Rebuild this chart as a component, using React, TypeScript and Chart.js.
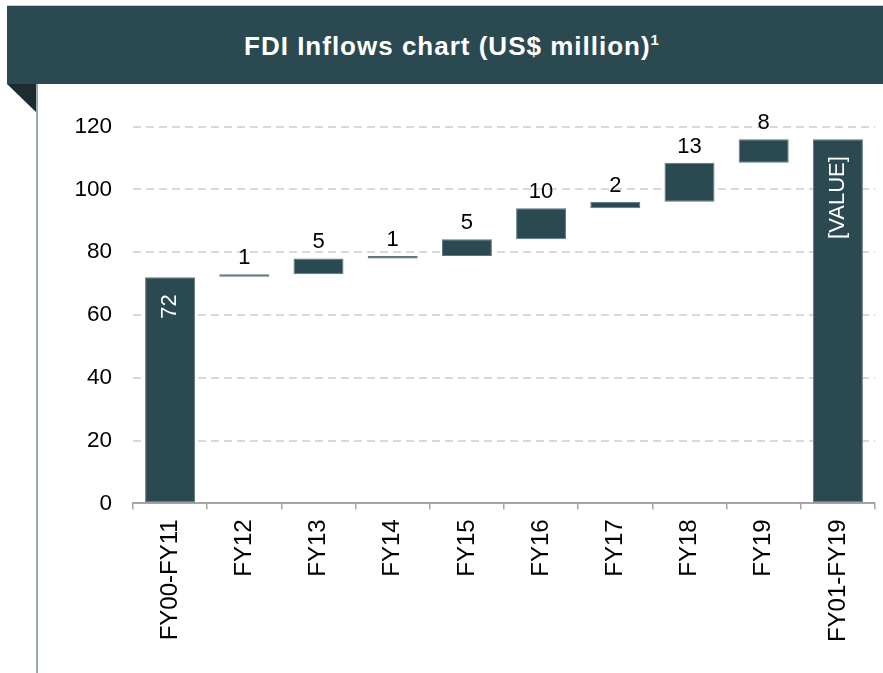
import React, { useEffect, useRef } from 'react';
import { Chart, registerables } from 'chart.js';

Chart.register(...registerables);

const categories = ['FY00-FY11', 'FY12', 'FY13', 'FY14', 'FY15', 'FY16', 'FY17', 'FY18', 'FY19', 'FY01-FY19'];
const barStart = [0, 72.2, 73.0, 78.0, 78.8, 84.1, 94.0, 96.1, 108.5, 0];
const barEnd = [72.0, 73.0, 78.0, 78.8, 84.1, 94.0, 96.1, 108.5, 116.0, 116.0];
const valueLabels = ['72', '1', '5', '1', '5', '10', '2', '13', '8', '[VALUE]'];
const yTickValues = [0, 20, 40, 60, 80, 100, 120];

const FONT = '"Liberation Sans", Arial, Helvetica, sans-serif';
const DARK = '#2a4950';

export default function App() {
  const ref = useRef<HTMLCanvasElement>(null);

  useEffect(() => {
    if (!ref.current) return;
    const labelPlugin = {
      id: 'wfLabels',
      afterDatasetsDraw(chart: any) {
        const ctx = chart.ctx;
        const meta = chart.getDatasetMeta(0);
        const n = meta.data.length;
        meta.data.forEach((bar: any, i: number) => {
          const p = bar.getProps(['x', 'y', 'base'], true);
          const top = Math.min(p.y, p.base);
          ctx.save();
          ctx.font = '22px ' + FONT;
          if (i === 0 || i === n - 1) {
            ctx.fillStyle = '#ffffff';
            ctx.translate(p.x, top + 17);
            ctx.rotate(-Math.PI / 2);
            ctx.textAlign = 'right';
            ctx.textBaseline = 'middle';
            ctx.fillText(valueLabels[i], 0, 0);
          } else {
            ctx.fillStyle = '#000000';
            ctx.textAlign = 'center';
            ctx.textBaseline = 'alphabetic';
            ctx.fillText(valueLabels[i], p.x, top - 10);
          }
          ctx.restore();
        });
      },
    };

    const chart = new Chart(ref.current, {
      type: 'bar',
      data: {
        labels: categories,
        datasets: [
          {
            data: categories.map((_, i) => [barStart[i], barEnd[i]]) as any,
            backgroundColor: DARK,
            borderColor: '#5d767c',
            borderWidth: 1,
            borderSkipped: false,
            barPercentage: 0.674,
            categoryPercentage: 1,
          },
        ],
      },
      options: {
        responsive: false,
        animation: false,
        layout: { padding: { left: 0, right: 8, top: 36.6, bottom: 0 } },
        plugins: {
          legend: { display: false },
          tooltip: { enabled: false },
          title: { display: false },
        },
        scales: {
          x: {
            offset: true,
            grid: {
              display: true,
              offset: true,
              drawOnChartArea: false,
              drawTicks: true,
              tickLength: 6,
              color: '#a6a6a6',
              lineWidth: 1.5,
            },
            border: { display: true, color: '#a6a6a6', width: 2 },
            ticks: {
              maxRotation: 90,
              minRotation: 90,
              autoSkip: false,
              padding: 10,
              color: '#000000',
              font: { family: FONT, size: 24 },
            },
            afterFit: (scale: any) => {
              scale.height = 169.6;
            },
          },
          y: {
            min: 0,
            max: 120,
            afterBuildTicks: (scale: any) => {
              scale.ticks = yTickValues.map((v) => ({ value: v }));
            },
            grid: {
              drawTicks: false,
              color: (c: any) => (c.tick && c.tick.value === 0 ? 'rgba(0,0,0,0)' : '#d9d9d9'),
              lineWidth: 2,
            },
            border: { display: false, dash: [8, 5] },
            ticks: {
              padding: 21,
              color: '#000000',
              font: { family: FONT, size: 22.5 },
            },
            afterFit: (scale: any) => {
              scale.width = 93;
            },
          },
        },
      },
      plugins: [labelPlugin],
    });
    return () => chart.destroy();
  }, []);

  return (
    <div
      style={{
        position: 'fixed',
        left: 0,
        top: 0,
        width: 883,
        height: 673,
        background: '#ffffff',
        overflow: 'hidden',
      }}
    >
      <div
        style={{
          position: 'absolute',
          left: 7,
          top: 5,
          width: 876,
          height: 79,
          background: DARK,
          borderTop: '1px solid #c3ccce',
          boxSizing: 'border-box',
        }}
      />
      <div
        style={{
          position: 'absolute',
          left: 7,
          top: 33,
          width: 876,
          paddingLeft: 13,
          boxSizing: 'border-box',
          textAlign: 'center',
          color: '#ffffff',
          fontFamily: FONT,
          fontWeight: 'bold',
          fontSize: 26,
          lineHeight: '26px',
          letterSpacing: '1px',
          whiteSpace: 'nowrap',
        }}
      >
        FDI Inflows chart (US$ million)
        <span style={{ fontSize: 15, position: 'relative', top: -10, letterSpacing: 0 }}>1</span>
      </div>
      <svg
        style={{ position: 'absolute', left: 7, top: 84 }}
        width={31}
        height={30}
        viewBox="0 0 31 30"
      >
        <polygon points="0,0 30,0 30,29" fill="#1c2c31" />
      </svg>
      <div
        style={{
          position: 'absolute',
          left: 36,
          top: 84,
          width: 2,
          height: 589,
          background: '#9aabb0',
        }}
      />
      <canvas
        ref={ref}
        width={843}
        height={583}
        style={{ position: 'absolute', left: 40, top: 90, width: 843, height: 583, display: 'block' }}
      />
    </div>
  );
}
